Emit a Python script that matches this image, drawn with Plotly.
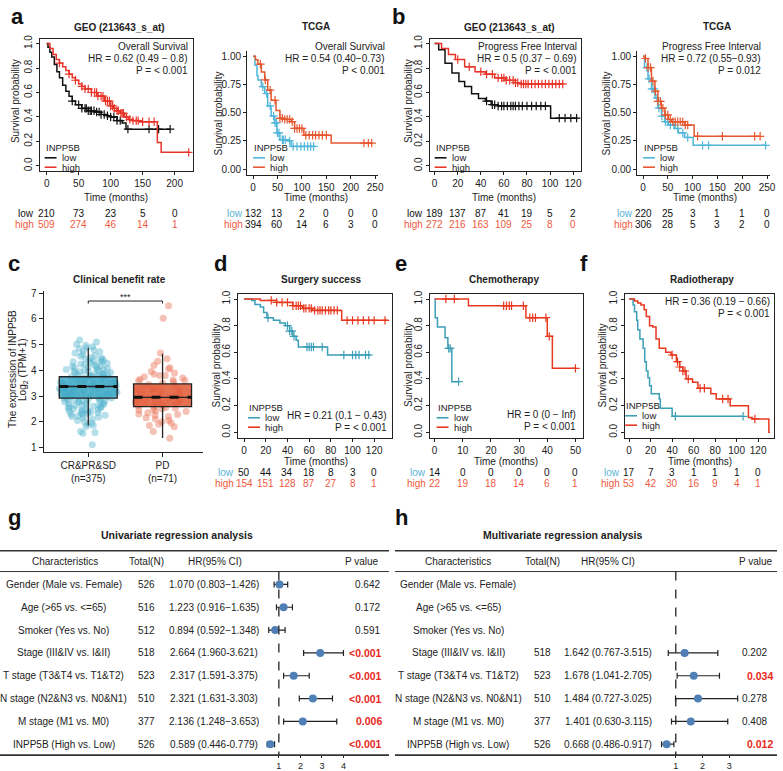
import plotly.graph_objects as go

W, H = 783, 771
FONT = 'Liberation Sans, Arial, sans-serif'

# ---------------------------------------------------------------- data
# panel a, GEO overall survival (time in months, survival probability)
a_geo_low_t = [0, 2, 5, 8, 12, 16, 20, 25, 30, 35, 40, 45, 55, 65, 75, 85, 95, 100, 110, 118, 124, 193]
a_geo_low_s = [1.0, 0.97, 0.93, 0.89, 0.83, 0.77, 0.72, 0.66, 0.61, 0.57, 0.53, 0.50, 0.47, 0.45, 0.44, 0.42, 0.41, 0.40, 0.37, 0.35, 0.30, 0.30]
a_geo_low_cens = [40, 50, 55, 60, 62, 65, 68, 70, 74, 78, 82, 85, 90, 95, 100, 105, 110, 115, 127, 160, 175, 193]
a_geo_high_t = [0, 5, 10, 15, 20, 25, 30, 35, 40, 45, 50, 55, 60, 70, 80, 90, 100, 105, 110, 115, 122, 128, 135, 145, 173, 179, 222]
a_geo_high_s = [1.0, 0.96, 0.91, 0.87, 0.84, 0.81, 0.78, 0.75, 0.72, 0.70, 0.67, 0.65, 0.63, 0.60, 0.57, 0.53, 0.49, 0.47, 0.45, 0.43, 0.40, 0.38, 0.37, 0.36, 0.19, 0.11, 0.11]
a_geo_high_cens = [20, 35, 45, 55, 60, 65, 70, 75, 78, 80, 85, 88, 92, 95, 98, 100, 103, 106, 110, 112, 116, 118, 120, 125, 130, 135, 140, 143, 150, 160, 168, 222]
a_geo_risk_t = [0, 50, 100, 150, 200]
a_geo_risk_low = [210, 73, 23, 5, 0]
a_geo_risk_high = [509, 274, 46, 14, 1]

# panel a, TCGA overall survival
a_tcga_low_t = [0, 4, 8, 10, 17, 24, 30, 37, 44, 49, 55, 71, 78, 126]
a_tcga_low_s = [1.0, 0.92, 0.83, 0.79, 0.73, 0.67, 0.56, 0.47, 0.41, 0.32, 0.26, 0.25, 0.20, 0.20]
a_tcga_low_cens = [20, 28, 35, 42, 45, 48, 50, 53, 60, 62, 66, 75, 82, 90, 98, 105, 112, 118, 124]
a_tcga_high_t = [0, 5, 10, 17, 24, 30, 37, 47, 55, 65, 79, 85, 104, 160, 243]
a_tcga_high_s = [1.0, 0.97, 0.93, 0.86, 0.79, 0.70, 0.61, 0.52, 0.45, 0.44, 0.42, 0.36, 0.30, 0.23, 0.23]
a_tcga_high_cens = [15, 25, 35, 45, 55, 60, 65, 70, 75, 80, 85, 90, 95, 100, 108, 115, 122, 128, 135, 142, 150, 227, 236, 243]
a_tcga_risk_t = [0, 50, 100, 150, 200, 250]
a_tcga_risk_low = [132, 13, 2, 0, 0, 0]
a_tcga_risk_high = [394, 60, 14, 6, 3, 0]

# panel b, GEO progress free interval
b_geo_low_t = [0, 3.5, 9, 15, 21, 26, 32, 38, 44, 49, 55, 100.5, 124]
b_geo_low_s = [1.0, 0.95, 0.84, 0.76, 0.69, 0.65, 0.59, 0.55, 0.53, 0.50, 0.49, 0.39, 0.39]
b_geo_low_cens = [45, 50, 52, 55, 58, 60, 63, 66, 68, 70, 73, 76, 80, 84, 88, 92, 96, 108, 113, 118, 123]
b_geo_high_t = [0, 6, 12, 18, 26, 35, 44, 52, 61, 70, 75, 111]
b_geo_high_s = [1.0, 0.96, 0.91, 0.87, 0.81, 0.77, 0.75, 0.72, 0.70, 0.68, 0.67, 0.67]
b_geo_high_cens = [20, 30, 40, 45, 50, 55, 58, 60, 62, 65, 68, 70, 72, 75, 77, 79, 81, 84, 87, 90, 93, 96, 99, 102, 105, 108, 111]
b_geo_risk_t = [0, 20, 40, 60, 80, 100, 120]
b_geo_risk_low = [189, 137, 87, 41, 19, 5, 2]
b_geo_risk_high = [272, 216, 163, 109, 25, 8, 0]

# panel b, TCGA progress free interval
b_tcga_low_t = [0, 3, 10, 17, 24, 30, 37, 44, 51, 64, 71, 84, 101, 247]
b_tcga_low_s = [1.0, 0.90, 0.80, 0.71, 0.63, 0.54, 0.47, 0.42, 0.39, 0.36, 0.32, 0.28, 0.21, 0.21]
b_tcga_low_cens = [8, 12, 18, 22, 28, 32, 38, 45, 50, 55, 62, 70, 80, 90, 120, 132, 247]
b_tcga_high_t = [0, 3, 10, 17, 24, 30, 37, 44, 51, 57, 84, 103, 236]
b_tcga_high_s = [1.0, 0.98, 0.90, 0.78, 0.69, 0.60, 0.54, 0.48, 0.44, 0.42, 0.39, 0.29, 0.29]
b_tcga_high_cens = [5, 10, 15, 20, 25, 30, 35, 40, 45, 50, 55, 60, 65, 70, 75, 80, 85, 90, 110, 160, 225, 236]
b_tcga_risk_t = [0, 50, 100, 150, 200, 250]
b_tcga_risk_low = [220, 25, 3, 1, 1, 0]
b_tcga_risk_high = [306, 28, 5, 3, 2, 0]

# panel c, clinical benefit rate
c_groups = ['CR&PR&SD<br>(n=375)', 'PD<br>(n=71)']
c_q1 = [2.92, 2.59]
c_median = [3.37, 2.95]
c_q3 = [3.75, 3.47]
c_low = [1.85, 1.36]
c_high = [4.88, 4.65]
c_cr_points = [
    5.18, 5.1, 5.02, 4.98, 4.92, 4.88, 4.85, 4.8, 4.75, 4.72, 4.68, 4.62, 4.58, 4.55, 4.5,
    4.48, 4.45, 4.42, 4.4, 4.38, 4.35, 4.33, 4.3, 4.28, 4.25, 4.22, 4.2, 4.18, 4.15, 4.12,
    4.1, 4.08, 4.05, 4.03, 4.0, 3.98, 3.96, 3.94, 3.92, 3.9, 3.88, 3.86, 3.84, 3.82, 3.8,
    3.78, 3.77, 3.75, 3.74, 3.72, 3.7, 3.69, 3.67, 3.66, 3.64, 3.62, 3.61, 3.6, 3.58, 3.57,
    3.55, 3.54, 3.52, 3.51, 3.5, 3.48, 3.47, 3.45, 3.44, 3.42, 3.41, 3.4, 3.38, 3.37, 3.36,
    3.35, 3.33, 3.32, 3.3, 3.29, 3.28, 3.26, 3.25, 3.24, 3.22, 3.21, 3.2, 3.18, 3.17, 3.15,
    3.14, 3.12, 3.11, 3.1, 3.08, 3.07, 3.05, 3.04, 3.02, 3.0, 2.99, 2.97, 2.96, 2.94, 2.92,
    2.9, 2.88, 2.86, 2.84, 2.82, 2.8, 2.78, 2.76, 2.74, 2.72, 2.7, 2.67, 2.64, 2.62, 2.6,
    2.57, 2.55, 2.52, 2.5, 2.47, 2.45, 2.42, 2.4, 2.37, 2.35, 2.32, 2.3, 2.27, 2.25, 2.22,
    2.2, 2.15, 2.1, 2.05, 2.0, 1.95, 1.9, 1.85, 1.8, 1.62, 1.58, 1.55, 1.1,
    4.12, 3.95, 3.86, 3.71, 3.63, 3.56, 3.49, 3.43, 3.34, 3.27, 3.19, 3.13, 3.06, 2.98, 2.87,
    2.79, 2.68, 2.58, 2.46, 2.33, 4.31, 4.02, 3.79, 3.53, 3.31, 3.09, 2.83, 2.63, 2.41, 2.17,
]
c_pd_points = [
    6.52, 6.03, 4.68, 4.45, 4.35, 4.1, 4.05, 3.95, 3.85, 3.8, 3.8, 3.75, 3.7, 3.65, 3.6,
    3.58, 3.55, 3.5, 3.45, 3.4, 3.38, 3.35, 3.3, 3.25, 3.2, 3.18, 3.15, 3.1, 3.05, 3.0,
    2.98, 2.95, 2.92, 2.9, 2.88, 2.85, 2.8, 2.78, 2.75, 2.7, 2.68, 2.65, 2.6, 2.58, 2.55,
    2.5, 2.48, 2.45, 2.42, 2.4, 2.35, 2.3, 2.28, 2.25, 2.2, 2.15, 2.1, 2.05, 2.0, 1.95,
    1.9, 1.85, 1.8, 3.62, 3.28, 2.72, 2.52, 3.9, 4.2, 1.62, 1.35,
]
c_sig_y = 6.7

# panel d, surgery success
d_low_t = [0, 7, 10, 15, 18, 21, 27, 33, 38, 42, 45, 48, 50, 77, 117]
d_low_s = [1.0, 0.99, 0.96, 0.94, 0.90, 0.86, 0.84, 0.82, 0.80, 0.76, 0.72, 0.69, 0.64, 0.58, 0.58]
d_low_cens = [22, 40, 42, 44, 46, 58, 60, 62, 64, 72, 92, 100, 103, 106, 112, 115]
d_high_t = [0, 15, 30, 45, 54, 63, 90, 133]
d_high_s = [1.0, 0.99, 0.975, 0.95, 0.93, 0.915, 0.84, 0.84]
d_high_cens = [25, 30, 35, 40, 45, 48, 50, 52, 55, 57, 60, 62, 65, 68, 70, 72, 75, 78, 80, 83, 86, 95, 100, 105, 110, 115, 120, 130]
d_risk_t = [0, 20, 40, 60, 80, 100, 120]
d_risk_low = [50, 44, 34, 18, 8, 3, 0]
d_risk_high = [154, 151, 128, 87, 27, 8, 1]

# panel e, chemotherapy
e_low_t = [0, 0.2, 1, 3.7, 4.7, 6.1, 8.8]
e_low_s = [1.0, 0.86, 0.79, 0.71, 0.63, 0.38, 0.38]
e_low_cens = [5, 5.5, 8.5]
e_high_t = [0, 12, 32.4, 40, 41.8, 50]
e_high_s = [1.0, 0.95, 0.86, 0.72, 0.48, 0.48]
e_high_cens = [4, 7, 24.5, 25.5, 26.5, 27.3, 31.5, 33.8, 34.8, 35.8, 39.5, 40.7, 50]
e_risk_t = [0, 10, 20, 30, 40, 50]
e_risk_low = [14, 0, 0, 0, 0, 0]
e_risk_high = [22, 19, 18, 14, 6, 1]

# panel f, radiotherapy
f_low_t = [0, 3.7, 5, 7, 8, 10, 13, 14.5, 16, 17.5, 19, 20.6, 28, 29, 40, 105]
f_low_s = [1.0, 0.955, 0.905, 0.84, 0.77, 0.70, 0.63, 0.53, 0.46, 0.41, 0.35, 0.29, 0.25, 0.18, 0.12, 0.12]
f_low_cens = [43, 106]
f_high_t = [0, 5, 8, 11, 14, 16, 19, 22, 25, 28, 34, 39, 44, 47, 50, 53, 59, 64, 76, 81, 94, 111, 114.5, 130, 131]
f_high_s = [1.0, 0.985, 0.97, 0.955, 0.92, 0.87, 0.80, 0.79, 0.70, 0.63, 0.60, 0.58, 0.53, 0.49, 0.46, 0.40, 0.375, 0.33, 0.29, 0.25, 0.20, 0.11, 0.10, 0.0, 0.0]
f_high_cens = [40, 45, 47, 50, 52, 55, 66, 70, 87, 92, 117]
f_risk_t = [0, 20, 40, 60, 80, 100, 120]
f_risk_low = [17, 7, 3, 1, 1, 1, 0]
f_risk_high = [53, 42, 30, 16, 9, 4, 1]

# panels g / h, regression tables
row_names = ['Gender (Male vs. Female)', 'Age (>65 vs. <=65)', 'Smoker (Yes vs. No)',
             'Stage (III&IV vs. I&II)', 'T stage (T3&T4 vs. T1&T2)', 'N stage (N2&N3 vs. N0&N1)',
             'M stage (M1 vs. M0)', 'INPP5B (High vs. Low)']
g_total = ['526', '516', '512', '518', '523', '510', '377', '526']
g_hr_text = ['1.070 (0.803\u22121.426)', '1.223 (0.916\u22121.635)', '0.894 (0.592\u22121.348)',
             '2.664 (1.960-3.621)', '2.317 (1.591-3.375)', '2.321 (1.631-3.303)',
             '2.136 (1.248\u22123.653)', '0.589 (0.446-0.779)']
g_p = ['0.642', '0.172', '0.591', '<0.001', '<0.001', '<0.001', '0.006', '<0.001']
g_sig = [False, False, False, True, True, True, True, True]
g_hr = [1.03, 1.22, 0.83, 2.92, 1.69, 2.58, 2.11, 0.60]
g_lo = [0.78, 0.89, 0.53, 2.15, 1.22, 1.95, 1.22, 0.46]
g_hi = [1.41, 1.63, 1.29, 4.00, 2.41, 3.49, 3.69, 0.80]

h_rows = [3, 4, 5, 6, 7]
h_total = ['518', '523', '510', '377', '526']
h_hr_text = ['1.642 (0.767-3.515)', '1.678 (1.041-2.705)', '1.484 (0.727-3.025)',
             '1.401 (0.630-3.115)', '0.668 (0.486-0.917)']
h_p = ['0.202', '0.034', '0.278', '0.408', '0.012']
h_sig = [False, True, False, False, True]
h_hr = [1.33, 1.67, 1.83, 1.56, 0.66]
h_lo = [0.72, 1.05, 0.99, 0.84, 0.47]
h_hi = [2.57, 2.63, 3.31, 2.94, 0.93]

# ---------------------------------------------------------------- styles
BLACK = '#111111'
GEO_RED = '#e8352a'
TCGA_BLUE = '#4fb6d9'
TCGA_RED = '#e5572f'
TEAL = '#3c9fb8'
RED2 = '#e8381f'
RISK_RED = '#ef5a3e'
RISK_BLUE = '#5ab3d6'
DOT_BLUE = '#4f7fb5'


def px(x):
    return x / W


def py(y):
    return 1 - y / H


def names(n):
    s = '' if n == 1 else str(n)
    return 'xaxis' + s, 'yaxis' + s, 'x' + s, 'y' + s


fig = go.Figure()
layout = dict(
    width=W, height=H, margin=dict(l=0, r=0, t=0, b=0),
    paper_bgcolor='white', plot_bgcolor='white', showlegend=False,
    font=dict(family=FONT, size=10, color='#222'),
)
annotations = []
shapes = []


def text(x, y, s, size=10, color='#222', xanchor='center', bold=False, angle=0, xref='paper', yref='paper'):
    if bold:
        s = '<b>' + s + '</b>'
    annotations.append(dict(
        x=px(x) if xref == 'paper' else x, y=py(y) if yref == 'paper' else y,
        xref=xref, yref=yref, text=s, showarrow=False, xanchor=xanchor, yanchor='middle',
        textangle=angle, font=dict(size=size, color=color, family=FONT)))


def add_axes(n, x0, x1, y0, y1, xr, yr, xstyle, ystyle):
    xa, ya, xs, ys = names(n)
    layout[xa] = dict(domain=[px(x0), px(x1)], range=xr, anchor=ys, showgrid=False,
                      zeroline=False, **xstyle)
    layout[ya] = dict(domain=[py(y1), py(y0)], range=yr, anchor=xs, showgrid=False,
                      zeroline=False, **ystyle)
    return xs, ys


def base_axes(n, x0, x1, y0, y1, xr, xticks):
    # R base graphics look: full box, rotated y labels
    common = dict(showline=True, mirror=True, linecolor='#222', linewidth=1, ticks='outside',
                  ticklen=3, tickcolor='#222', tickfont=dict(size=10, color='#222'))
    return add_axes(n, x0, x1, y0, y1, xr, [-0.04, 1.04],
                    dict(tickvals=xticks, **common),
                    dict(tickvals=[0, 0.2, 0.4, 0.6, 0.8, 1.0], tickformat='.1f', tickangle=-90, **common))


def gg_axes(n, x0, x1, y0, y1, xr, xticks):
    # ggplot classic look: left + bottom lines
    common = dict(showline=True, mirror=False, linecolor='#222', linewidth=1, ticks='outside',
                  ticklen=3, tickcolor='#222', tickfont=dict(size=10, color='#222'))
    return add_axes(n, x0, x1, y0, y1, xr, [-0.05, 1.05],
                    dict(tickvals=xticks, **common),
                    dict(tickvals=[0, 0.25, 0.5, 0.75, 1.0], tickformat='.2f', **common))


def surv_at(ts, ss, t):
    val = ss[0]
    for ti, si in zip(ts, ss):
        if ti <= t:
            val = si
    return val


def km(xs, ys, ts, ss, cens, color, width=1.5):
    fig.add_trace(go.Scatter(x=ts, y=ss, xaxis=xs, yaxis=ys, mode='lines',
                             line=dict(color=color, width=width, shape='hv'), hoverinfo='skip'))
    fig.add_trace(go.Scatter(x=cens, y=[surv_at(ts, ss, c) for c in cens], xaxis=xs, yaxis=ys,
                             mode='markers', hoverinfo='skip',
                             marker=dict(symbol='cross-thin', size=6, line=dict(width=1.2, color=color))))


def legend(x, y_title, c_low, c_high, size=9.5):
    text(x, y_title, 'INPP5B', size=size, xanchor='left')
    for yy, col, lab in [(y_title + 10, c_low, 'low'), (y_title + 19.5, c_high, 'high')]:
        shapes.append(dict(type='line', xref='paper', yref='paper', x0=px(x + 1), x1=px(x + 13),
                           y0=py(yy), y1=py(yy), line=dict(color=col, width=1.6)))
        text(x + 16, yy, lab, size=size, xanchor='left')


def risk(xs, tvals, low, high, y_low, label_x, low_lab_col, low_num_col, high_lab_col, high_num_col):
    text(label_x, y_low, 'low', color=low_lab_col, xanchor='right')
    text(label_x, y_low + 11, 'high', color=high_lab_col, xanchor='right')
    for t, lo, hi in zip(tvals, low, high):
        text(t, y_low, str(lo), color=low_num_col, xref=xs)
        text(t, y_low + 11, str(hi), color=high_num_col, xref=xs)


def stats(x_right, y0, lines, size=10):
    for i, s in enumerate(lines):
        text(x_right, y0 + 12 * i, s, size=size, xanchor='right')


# ---------------------------------------------------------------- panel a
xs, ys = base_axes(1, 40, 194, 35, 168, [-10.9, 228], a_geo_risk_t)
km(xs, ys, a_geo_low_t, a_geo_low_s, a_geo_low_cens, BLACK)
km(xs, ys, a_geo_high_t, a_geo_high_s, a_geo_high_cens, GEO_RED)
text(120, 24, 'GEO (213643_s_at)', bold=True)
stats(191, 43, ['Overall Survival', 'HR = 0.62 (0.49 \u2212 0.8)', 'P = < 0.001'])
legend(44, 145, BLACK, GEO_RED)
text(15, 98, 'Survival probability', angle=-90)
text(117, 195, 'Time (months)')
risk(xs, a_geo_risk_t, a_geo_risk_low, a_geo_risk_high, 211, 36, BLACK, BLACK, RISK_RED, RISK_RED)

xs, ys = gg_axes(2, 249, 381, 47, 172, [-12.2, 256], a_tcga_risk_t)
km(xs, ys, a_tcga_low_t, a_tcga_low_s, a_tcga_low_cens, TCGA_BLUE)
km(xs, ys, a_tcga_high_t, a_tcga_high_s, a_tcga_high_cens, TCGA_RED)
text(318, 23, 'TCGA', bold=True)
stats(390, 43, ['Overall Survival', 'HR = 0.54 (0.40\u22120.73)', 'P < 0.001'])
legend(254, 145, TCGA_BLUE, TCGA_RED)
text(220, 110, 'Survival probability', angle=-90)
text(318, 195, 'Time (months)')
risk(xs, a_tcga_risk_t, a_tcga_risk_low, a_tcga_risk_high, 211, 247, RISK_BLUE, BLACK, RISK_RED, BLACK)

# ---------------------------------------------------------------- panel b
xs, ys = base_axes(3, 433, 585, 35, 168, [-4.3, 126.4], b_geo_risk_t)
km(xs, ys, b_geo_low_t, b_geo_low_s, b_geo_low_cens, BLACK)
km(xs, ys, b_geo_high_t, b_geo_high_s, b_geo_high_cens, GEO_RED)
text(513, 24, 'GEO (213643_s_at)', bold=True)
stats(583, 43, ['Progress Free Interval', 'HR = 0.5 (0.37 \u2212 0.69)', 'P = < 0.001'])
legend(437, 145, BLACK, GEO_RED)
text(411, 98, 'Survival probability', angle=-90)
text(508, 195, 'Time (months)')
risk(xs, b_geo_risk_t, b_geo_risk_low, b_geo_risk_high, 211, 428, BLACK, BLACK, RISK_RED, RISK_RED)

xs, ys = gg_axes(4, 642, 776, 47, 172, [-12, 256], b_tcga_risk_t)
km(xs, ys, b_tcga_low_t, b_tcga_low_s, b_tcga_low_cens, TCGA_BLUE)
km(xs, ys, b_tcga_high_t, b_tcga_high_s, b_tcga_high_cens, TCGA_RED)
text(723, 23, 'TCGA', bold=True)
stats(769, 43, ['Progress Free Interval', 'HR = 0.72 (0.55\u22120.93)', 'P = 0.012'])
legend(647, 145, TCGA_BLUE, TCGA_RED)
text(611, 110, 'Survival probability', angle=-90)
text(710, 195, 'Time (months)')
risk(xs, b_tcga_risk_t, b_tcga_risk_low, b_tcga_risk_high, 211, 640, RISK_BLUE, BLACK, RISK_RED, BLACK)

# ---------------------------------------------------------------- panel c
xs, ys = add_axes(5, 44, 205, 289, 452, [0.4, 2.55], [0.8, 7.1],
                  dict(showline=True, linecolor='#222', ticks='outside', ticklen=4, tickcolor='#222',
                       tickvals=[1, 2], ticktext=c_groups, tickfont=dict(size=10, color='#222')),
                  dict(showline=True, linecolor='#222', ticks='outside', ticklen=4, tickcolor='#222',
                       tickvals=[1, 2, 3, 4, 5, 6, 7], tickfont=dict(size=10, color='#222')))
for pos, pts, col in [(1, c_cr_points, 'rgba(80,178,205,0.42)'), (2, c_pd_points, 'rgba(232,118,88,0.45)')]:
    fig.add_trace(go.Box(x=[pos] * len(pts), y=pts, xaxis=xs, yaxis=ys, boxpoints='all', jitter=1,
                         pointpos=0, width=0.78, fillcolor='rgba(0,0,0,0)',
                         line=dict(width=0, color='rgba(0,0,0,0)'), whiskerwidth=0,
                         marker=dict(color=col, size=7), hoverinfo='skip'))
for i, col in enumerate(['rgba(62,168,198,0.82)', 'rgba(226,92,58,0.88)']):
    fig.add_trace(go.Box(x=[i + 1], q1=[c_q1[i]], median=[c_median[i]], q3=[c_q3[i]],
                         lowerfence=[c_low[i]], upperfence=[c_high[i]], xaxis=xs, yaxis=ys,
                         width=0.78, whiskerwidth=0, fillcolor=col, boxpoints=False,
                         line=dict(color='#222', width=1.3), hoverinfo='skip'))
    fig.add_trace(go.Scatter(x=[i + 1 - 0.39, i + 1 + 0.39], y=[c_median[i]] * 2, xaxis=xs, yaxis=ys,
                             mode='lines', line=dict(color='#111', width=3, dash='dash'), hoverinfo='skip'))
fig.add_trace(go.Scatter(x=[1, 1, 2, 2], y=[c_sig_y - 0.1, c_sig_y, c_sig_y, c_sig_y - 0.1], xaxis=xs, yaxis=ys,
                         mode='lines', line=dict(color='#222', width=1), hoverinfo='skip'))
text(1.5, c_sig_y + 0.14, '***', size=9, xref=xs, yref=ys)
text(120, 278, 'Clinical benefit rate', bold=True)
text(12, 368, 'The expression of INPP5B', angle=-90)
text(23, 368, 'Log<sub>2</sub> (TPM+1)', angle=-90)

# ---------------------------------------------------------------- panels d, e, f
xs, ys = base_axes(6, 240, 395, 292, 437, [-5.5, 136.4], d_risk_t)
km(xs, ys, d_low_t, d_low_s, d_low_cens, TEAL)
km(xs, ys, d_high_t, d_high_s, d_high_cens, RED2)
text(323, 278, 'Surgery success', bold=True)
stats(392, 415, ['HR = 0.21 (0.1 \u2212 0.43)', 'P = < 0.001'])
legend(249, 407, TEAL, RED2)
text(218, 364, 'Survival probability', angle=-90)
text(318, 461, 'Time (months)')
risk(xs, d_risk_t, d_risk_low, d_risk_high, 472, 238, RISK_BLUE, BLACK, RISK_RED, RISK_RED)

xs, ys = base_axes(7, 433, 587, 292, 437, [-1.76, 52.5], e_risk_t)
km(xs, ys, e_low_t, e_low_s, e_low_cens, TEAL)
km(xs, ys, e_high_t, e_high_s, e_high_cens, RED2)
text(508, 278, 'Chemotherapy', bold=True)
stats(582, 414, ['HR = 0 (0 \u2212 Inf)', 'P = < 0.001'])
legend(439, 407, TEAL, RED2)
text(411, 364, 'Survival probability', angle=-90)
text(510, 461, 'Time (months)')
risk(xs, e_risk_t, e_risk_low, e_risk_high, 472, 431, RISK_BLUE, BLACK, RISK_RED, RISK_RED)

xs, ys = base_axes(8, 630, 780, 292, 437, [-3.7, 134.8], f_risk_t)
km(xs, ys, f_low_t, f_low_s, f_low_cens, TEAL)
km(xs, ys, f_high_t, f_high_s, f_high_cens, RED2)
text(707, 278, 'Radiotherapy', bold=True)
stats(778, 300, ['HR = 0.36 (0.19 \u2212 0.66)', 'P = < 0.001'])
legend(629, 405, TEAL, RED2)
text(607, 364, 'Survival probability', angle=-90)
text(705, 461, 'Time (months)')
risk(xs, f_risk_t, f_risk_low, f_risk_high, 472, 627, RISK_BLUE, BLACK, RISK_RED, RISK_RED)

# ---------------------------------------------------------------- panels g, h
def forest_axes(n, x0, x1, xr, ticks):
    return add_axes(n, x0, x1, 551, 757, xr, [7.478, -1.478],
                    dict(showline=False, ticks='outside', ticklen=2, tickcolor='#222', tickvals=ticks,
                         tickfont=dict(size=9, color='#222')),
                    dict(visible=False))


def table_frame(xs, ys, x0, x1, title, title_x, cols):
    text(title_x, 535, title, size=10.5, bold=True)
    for yy, wdt in [(551, 1.6), (572, 1.0), (757, 1.6)]:
        shapes.append(dict(type='line', xref='paper', yref='paper', x0=px(x0), x1=px(x1),
                           y0=py(yy), y1=py(yy), line=dict(color='#333', width=wdt)))
    for cx, s, anchor in cols:
        text(cx, -1, s, xanchor=anchor, yref=ys)
    shapes.append(dict(type='line', xref=xs, yref=ys, x0=1, x1=1, y0=-0.57, y1=7.478,
                       line=dict(color='#222', width=1.3, dash='dash')))


xs, ys = forest_axes(9, 262, 358, [0.124, 4.548], [1, 2, 3, 4])
table_frame(xs, ys, 0, 392, 'Univariate regression analysis', 178,
            [(65, 'Characteristics', 'center'), (148, 'Total(N)', 'center'),
             (217, 'HR(95% CI)', 'center'), (384, 'P value', 'right')])
for i, name in enumerate(row_names):
    text(64, i, name, yref=ys)
    text(148, i, g_total[i], yref=ys)
    text(216, i, g_hr_text[i], yref=ys)
    if g_sig[i]:
        text(387, i, g_p[i], xanchor='right', bold=True, color='#e8281c', size=10.5, yref=ys)
    else:
        text(370, i, g_p[i], yref=ys)
fig.add_trace(go.Scatter(
    x=g_hr, y=list(range(len(g_hr))), xaxis=xs, yaxis=ys, mode='markers',
    marker=dict(color=DOT_BLUE, size=8),
    error_x=dict(type='data', symmetric=False, array=[h - m for h, m in zip(g_hi, g_hr)],
                 arrayminus=[m - l for m, l in zip(g_hr, g_lo)], color='#222', thickness=1.2, width=3),
    hoverinfo='skip'))

xs, ys = forest_axes(10, 655, 770, [0.037, 4.296], [1, 2, 3])
table_frame(xs, ys, 398, 783, 'Multivariate regression analysis', 567,
            [(462, 'Characteristics', 'center'), (547, 'Total(N)', 'center'),
             (613, 'HR(95% CI)', 'center'), (781, 'P value', 'right')])
for i, name in enumerate(row_names):
    text(462, i, name, yref=ys)
for j, r in enumerate(h_rows):
    text(547, r, h_total[j], yref=ys)
    text(613, r, h_hr_text[j], yref=ys)
    if h_sig[j]:
        text(781, r, h_p[j], xanchor='right', bold=True, color='#e8281c', size=10.5, yref=ys)
    else:
        text(760, r, h_p[j], yref=ys)
fig.add_trace(go.Scatter(
    x=h_hr, y=h_rows, xaxis=xs, yaxis=ys, mode='markers',
    marker=dict(color=DOT_BLUE, size=8),
    error_x=dict(type='data', symmetric=False, array=[h - m for h, m in zip(h_hi, h_hr)],
                 arrayminus=[m - l for m, l in zip(h_hr, h_lo)], color='#222', thickness=1.2, width=3),
    hoverinfo='skip'))

# ---------------------------------------------------------------- panel letters
for lab, x, y in [('a', 18, 13), ('b', 402, 13), ('c', 14, 262), ('d', 222, 262),
                  ('e', 404, 262), ('f', 589, 262), ('g', 15, 518), ('h', 405, 518)]:
    text(x, y, lab, size=22, bold=True, color='#111')

layout['annotations'] = annotations
layout['shapes'] = shapes
layout['boxmode'] = 'overlay'
fig.update_layout(**layout)
# drop the default 8px page margin so the figure sits at the window origin
fig.write_html('out.html', config={'displayModeBar': False},
               post_script="document.body.style.margin='0px';")
